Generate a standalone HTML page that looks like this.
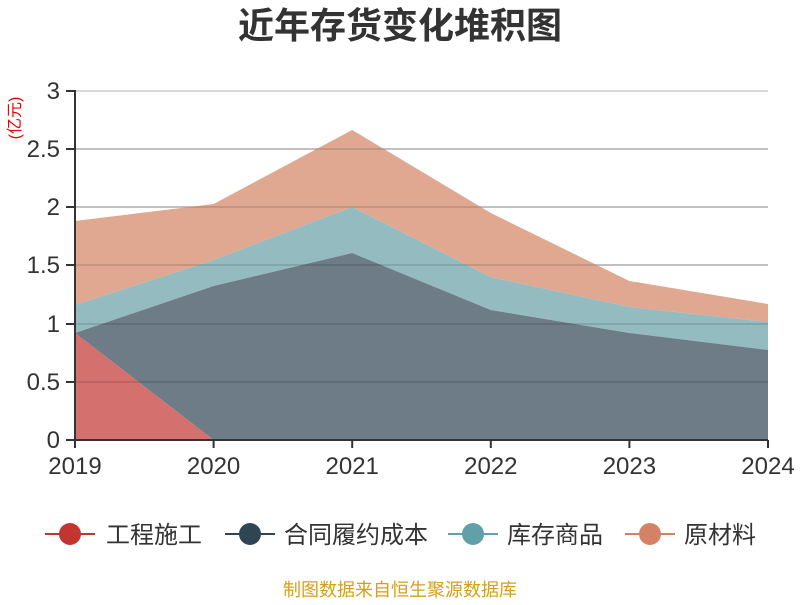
<!DOCTYPE html>
<html><head><meta charset="utf-8"><style>
body{margin:0;background:#fff;}
svg text{font-family:"Liberation Sans","Noto Sans CJK SC",sans-serif;}
</style></head><body>
<svg width="800" height="600" viewBox="0 0 800 600" xmlns="http://www.w3.org/2000/svg">
<text x="400" y="38" text-anchor="middle" font-size="36" font-weight="bold" fill="#333">近年存货变化堆积图</text>
<g stroke="#ccc" stroke-width="1.5">
<line x1="75" x2="768" y1="91" y2="91"/><line x1="75" x2="768" y1="149" y2="149"/>
<line x1="75" x2="768" y1="207" y2="207"/><line x1="75" x2="768" y1="265" y2="265"/>
<line x1="75" x2="768" y1="324" y2="324"/><line x1="75" x2="768" y1="382" y2="382"/>
</g>
<polygon fill="#e0a891" points="75,221 213.6,204 352.2,130 490.8,213 629.4,281 768,304 768,322 629.4,307 490.8,277 352.2,207 213.6,260 75,305"/>
<polygon fill="#93bbc0" points="75,305 213.6,260 352.2,207 490.8,277 629.4,307 768,322 768,350 629.4,333 490.8,310 352.2,253 213.6,286 75,333"/>
<polygon fill="#6e7c87" points="75,333 213.6,286 352.2,253 490.8,310 629.4,333 768,350 768,440 213.6,440"/>
<polygon fill="#d4706d" points="75,333 213.6,440 75,440"/>
<g stroke="#000" stroke-opacity="0.15" stroke-width="1.5">
<line x1="75" x2="768" y1="149" y2="149"/><line x1="75" x2="768" y1="207" y2="207"/>
<line x1="75" x2="768" y1="265" y2="265"/><line x1="75" x2="768" y1="324" y2="324"/><line x1="75" x2="768" y1="382" y2="382"/>
</g>
<g stroke="#333" stroke-width="2">
<line x1="75" y1="90" x2="75" y2="441"/><line x1="74" y1="440" x2="768" y2="440"/>
<line x1="66" x2="75" y1="91" y2="91"/><line x1="66" x2="75" y1="149" y2="149"/><line x1="66" x2="75" y1="207" y2="207"/>
<line x1="66" x2="75" y1="265" y2="265"/><line x1="66" x2="75" y1="324" y2="324"/><line x1="66" x2="75" y1="382" y2="382"/><line x1="66" x2="75" y1="440" y2="440"/>
<line x1="75" x2="75" y1="440" y2="448"/><line x1="213.6" x2="213.6" y1="440" y2="448"/><line x1="352.2" x2="352.2" y1="440" y2="448"/>
<line x1="490.8" x2="490.8" y1="440" y2="448"/><line x1="629.4" x2="629.4" y1="440" y2="448"/><line x1="768" x2="768" y1="440" y2="448"/>
</g>
<g font-size="24" fill="#333" text-anchor="end">
<text x="60" y="99">3</text><text x="60" y="157">2.5</text><text x="60" y="215">2</text>
<text x="60" y="273">1.5</text><text x="60" y="332">1</text><text x="60" y="390">0.5</text><text x="60" y="448">0</text>
</g>
<g font-size="24" fill="#333" text-anchor="middle">
<text x="75" y="474">2019</text><text x="213.6" y="474">2020</text><text x="352.2" y="474">2021</text>
<text x="490.8" y="474">2022</text><text x="629.4" y="474">2023</text><text x="768" y="474">2024</text>
</g>
<text transform="translate(20,118) rotate(-90)" text-anchor="middle" font-size="16" fill="#e00">(亿元)</text>
<g font-size="24" fill="#333">
<line x1="45" x2="95" y1="534" y2="534" stroke="#c23531" stroke-width="2"/><circle cx="70" cy="534" r="11" fill="#c23531"/>
<text x="106" y="543">工程施工</text>
<line x1="225" x2="275" y1="534" y2="534" stroke="#2f4554" stroke-width="2"/><circle cx="250" cy="534" r="11" fill="#2f4554"/>
<text x="284" y="543">合同履约成本</text>
<line x1="448" x2="498" y1="534" y2="534" stroke="#61a0a8" stroke-width="2"/><circle cx="473" cy="534" r="11" fill="#61a0a8"/>
<text x="507" y="543">库存商品</text>
<line x1="625" x2="675" y1="534" y2="534" stroke="#d48265" stroke-width="2"/><circle cx="650" cy="534" r="11" fill="#d48265"/>
<text x="684" y="543">原材料</text>
</g>
<text x="400" y="596" text-anchor="middle" font-size="18" fill="#d4a017">制图数据来自恒生聚源数据库</text>
</svg>
</body></html>
